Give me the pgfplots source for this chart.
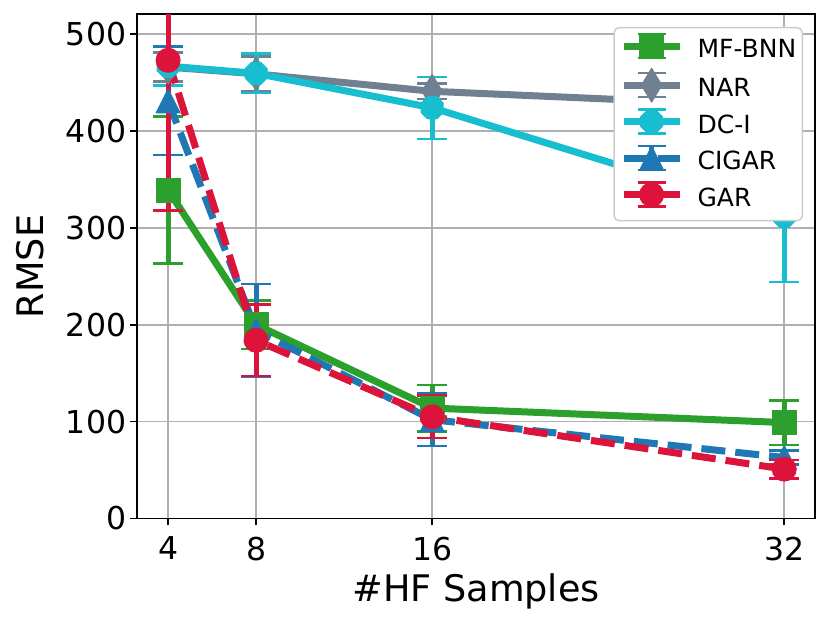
\documentclass[border=0pt]{standalone}
\usepackage{fontspec}
\setmainfont{DejaVu Sans}
\usepackage{pgfplots}
\pgfplotsset{compat=1.18}
\definecolor{cgreen}{HTML}{2CA02C}
\definecolor{cnar}{HTML}{708090}
\definecolor{ccyan}{HTML}{17BECF}
\definecolor{cblue}{HTML}{1F77B4}
\definecolor{cred}{HTML}{DC143C}
\definecolor{cgrid}{HTML}{B0B0B0}
\definecolor{cleg}{HTML}{CCCCCC}
\pgfdeclareplotmark{mpltri}{%
  \pgfpathmoveto{\pgfqpoint{0pt}{\pgfplotmarksize}}%
  \pgfpathlineto{\pgfqpoint{-\pgfplotmarksize}{-\pgfplotmarksize}}%
  \pgfpathlineto{\pgfqpoint{\pgfplotmarksize}{-\pgfplotmarksize}}%
  \pgfpathclose\pgfusepathqfillstroke}
\pgfdeclareplotmark{thindiamond}{%
  \pgfpathmoveto{\pgfqpoint{0pt}{1.414\pgfplotmarksize}}%
  \pgfpathlineto{\pgfqpoint{0.849\pgfplotmarksize}{0pt}}%
  \pgfpathlineto{\pgfqpoint{0pt}{-1.414\pgfplotmarksize}}%
  \pgfpathlineto{\pgfqpoint{-0.849\pgfplotmarksize}{0pt}}%
  \pgfpathclose\pgfusepathqfillstroke}
\pgfdeclareplotmark{octagon}{%
  \pgfpathmoveto{\pgfpointpolar{22.5}{\pgfplotmarksize}}%
  \pgfpathlineto{\pgfpointpolar{67.5}{\pgfplotmarksize}}%
  \pgfpathlineto{\pgfpointpolar{112.5}{\pgfplotmarksize}}%
  \pgfpathlineto{\pgfpointpolar{157.5}{\pgfplotmarksize}}%
  \pgfpathlineto{\pgfpointpolar{202.5}{\pgfplotmarksize}}%
  \pgfpathlineto{\pgfpointpolar{247.5}{\pgfplotmarksize}}%
  \pgfpathlineto{\pgfpointpolar{292.5}{\pgfplotmarksize}}%
  \pgfpathlineto{\pgfpointpolar{337.5}{\pgfplotmarksize}}%
  \pgfpathclose\pgfusepathqfillstroke}
\pgfplotsset{
  errleg/.style={legend image code/.code={
    \draw[##1,mark=none] (0pt,11.7pt) -- (56pt,11.7pt);
    \draw[##1,mark=none,solid,line width=5pt] (28pt,-0.3pt) -- (28pt,23.7pt);
    \draw[##1,mark=none,solid,line width=2.5pt] (14pt,-0.3pt) -- (42pt,-0.3pt) (14pt,23.7pt) -- (42pt,23.7pt);
    \draw[##1] plot coordinates {(28pt,11.7pt)};
  }},
  ser/.style={color=#1, line width=7pt, line join=round, mark size=12pt,
    mark options={solid, fill=#1, draw=#1, line width=1pt},
    errleg,
    error bars/y dir=both, error bars/y explicit,
    error bars/error mark=|,
    error bars/error bar style={line width=5pt, solid, color=#1},
    error bars/error mark options={line width=2.5pt, mark size=15pt, solid, color=#1}},
  dsh/.style={dash pattern=on 24pt off 10pt}
}
\begin{document}
\begin{tikzpicture}
\path[use as bounding box] (0,0) rectangle (830pt,626pt);
\begin{axis}[
  at={(137.3pt,107.5pt)}, anchor=south west,
  scale only axis, width=677.7pt, height=504.2pt,
  xmin=2.6, xmax=33.4, ymin=0, ymax=520.5,
  xtick={4,8,16,32}, ytick={0,100,200,300,400,500},
  grid=major, major grid style={cgrid, line width=1.6pt},
  axis line style={black, line width=1.6pt},
  tick style={black, line width=1.6pt},
  major tick length=7pt, tick align=outside, tick pos=left,
  ticklabel style={font=\fontsize{31.5}{38}\selectfont, inner sep=0pt},
  yticklabel style={anchor=east, xshift=-4pt},
  xticklabel style={anchor=north, yshift=-11pt},
  /pgf/number format/assume math mode=true,
  xlabel={\#HF Samples}, ylabel={RMSE},
  label style={font=\fontsize{36.6}{44}\selectfont, inner sep=0pt},
  xlabel style={at={(axis description cs:0.5,0)}, anchor=base, yshift=-83pt},
  ylabel style={at={(axis description cs:0,0.5)}, anchor=base, yshift=94pt},
  legend style={at={(1,1)}, anchor=north east, xshift=-12pt, yshift=-12.7pt,
    draw=cleg, line width=1.5pt, rounded corners=5pt, fill=white,
    inner xsep=6pt, inner ysep=4pt, row sep=0pt, column sep=14.5pt,
    font=\fontsize{25}{30}\selectfont,
    nodes={text height=22.7pt, text depth=7.3pt, inner ysep=3pt, inner xsep=0pt, anchor=base west}},
]
\addplot[ser=cgreen, mark=square*] coordinates {(4,339) +- (0,76) (8,200) +- (0,25) (16,114) +- (0,24) (32,99) +- (0,23)};
\addlegendentry{MF-BNN\hspace{4pt}}
\addplot[ser=cnar, mark=thindiamond] coordinates {(4,466) +- (0,15) (8,459) +- (0,18) (16,441) +- (0,8) (32,425) +- (0,10)};
\addlegendentry{NAR}
\addplot[ser=ccyan, mark=octagon] coordinates {(4,467) +- (0,20) (8,459.5) +- (0,20.5) (16,424) +- (0,32) (32,312) +- (0,68)};
\addlegendentry{DC-I}
\addplot[ser=cblue, dsh, mark=mpltri] coordinates {(4,431) +- (0,56) (8,194) +- (0,48) (16,102) +- (0,27) (32,63) +- (0,7)};
\addlegendentry{CIGAR}
\addplot[ser=cred, dsh, mark=*] coordinates {(4,473) +- (0,155) (8,184) +- (0,37) (16,105) +- (0,22) (32,51) +- (0,9.5)};
\addlegendentry{GAR}
\end{axis}
\end{tikzpicture}
\end{document}
